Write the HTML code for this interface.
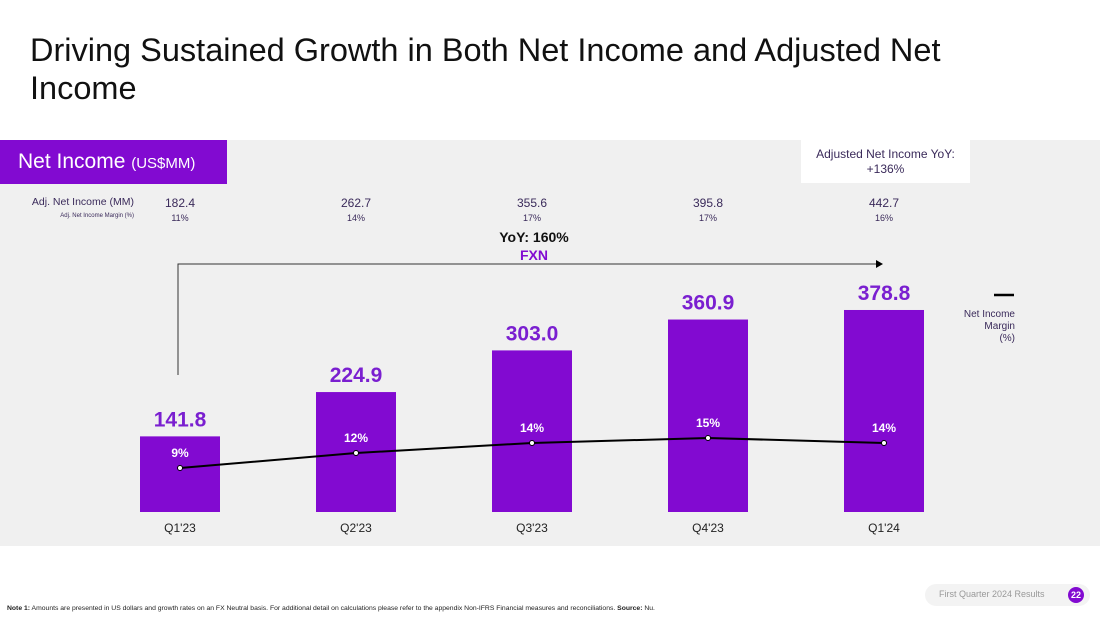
<!DOCTYPE html>
<html><head><meta charset="utf-8"><style>
body{margin:0;width:1100px;height:619px;background:#fff;font-family:"Liberation Sans",sans-serif;position:relative;overflow:hidden}
.a{position:absolute}
</style></head><body>
<div class="a" style="left:30px;top:31px;font-size:32.5px;line-height:38px;color:#111;width:960px">Driving Sustained Growth in Both Net Income and Adjusted Net Income</div>
<div class="a" style="left:0;top:140px;width:1100px;height:406px;background:#f0f0f0"></div>
<div class="a" style="left:0;top:140px;width:227px;height:44px;background:#820ad1;color:#fff;font-size:21px;line-height:44px;padding-left:18px;box-sizing:border-box">Net Income <span style="font-size:15px">(US$MM)</span></div>
<div class="a" style="left:801px;top:140px;width:169px;height:43px;background:#fff;color:#3a2a5a;font-size:12px;text-align:center;line-height:15px;padding-top:7px;box-sizing:border-box">Adjusted Net Income YoY:<br>+136%</div>
<div class="a" style="left:0;top:196px;width:134px;text-align:right;font-size:10.5px;color:#3a2a5a">Adj. Net Income (MM)</div>
<div class="a" style="left:0;top:213px;width:134px;text-align:right;font-size:6px;color:#3a2a5a">Adj. Net Income Margin (%)</div>
<svg class="a" style="left:0;top:0" width="1100" height="619" id="chart"></svg>
<div class="a" style="left:7px;top:605px;font-size:6.8px;color:#222;white-space:nowrap"><b>Note 1:</b> Amounts are presented in US dollars and growth rates on an FX Neutral basis. For additional detail on calculations please refer to the appendix Non-IFRS Financial measures and reconciliations. <b>Source:</b> Nu.</div>
<div class="a" style="left:925px;top:584px;width:165px;height:22px;border-radius:11px;background:#f3f3f3"></div>
<div class="a" style="left:939px;top:589px;font-size:9px;color:#999">First Quarter 2024 Results</div>
<div class="a" style="left:1068px;top:587px;width:16px;height:16px;border-radius:8px;background:#820ad1;color:#fff;font-size:9px;font-weight:bold;text-align:center;line-height:16px">22</div>
<script>
const categories=["Q1'23","Q2'23","Q3'23","Q4'23","Q1'24"];
const netIncome=[141.8,224.9,303.0,360.9,378.8];
const niMargin=[9,12,14,15,14];
const adjNetIncome=[182.4,262.7,355.6,395.8,442.7];
const adjMargin=[11,14,17,17,16];
const svg=document.getElementById('chart');const NS='http://www.w3.org/2000/svg';
const P='#820ad1';
function xC(i){return 180+i*176;}
function yB(v){return 512-v*0.5333;}
function yM(m){return 513-m*5;}
function el(t,a,txt){const e=document.createElementNS(NS,t);for(const k in a)e.setAttribute(k,a[k]);if(txt!=null)e.textContent=txt;svg.appendChild(e);return e;}
categories.forEach((c,i)=>{
 const b=el('rect',{x:xC(i)-40,y:yB(netIncome[i]),width:80,height:512-yB(netIncome[i]),fill:P});
 
 
 const v=el('text',{x:xC(i),y:yB(netIncome[i])-10,'text-anchor':'middle','font-size':21,'font-weight':'bold',fill:'#7a1fd0','font-family':'Liberation Sans'},netIncome[i].toFixed(1));
 
 
 const x=el('text',{x:xC(i),y:532,'text-anchor':'middle','font-size':12,fill:'#222','font-family':'Liberation Sans'},c);
 
 
 const a=el('text',{x:xC(i),y:207,'text-anchor':'middle','font-size':12,fill:'#3a2a5a','font-family':'Liberation Sans'},adjNetIncome[i].toFixed(1));
 
 
 const m=el('text',{x:xC(i),y:221,'text-anchor':'middle','font-size':9,fill:'#3a2a5a','font-family':'Liberation Sans'},adjMargin[i]+'%');
 
 
});
let d='';niMargin.forEach((m,i)=>{d+=(i?'L':'M')+xC(i)+' '+yM(m);});
const ln=el('path',{d:d,fill:'none',stroke:'#000','stroke-width':2});


niMargin.forEach((m,i)=>{
 const p=el('circle',{cx:xC(i),cy:yM(m),r:2.5,fill:'#fff',stroke:'#000','stroke-width':1});
 
 
 const t=el('text',{x:xC(i),y:yM(m)-11,'text-anchor':'middle','font-size':12,'font-weight':'bold',fill:'#fff','font-family':'Liberation Sans'},m+'%');
 
 
});
const ar=el('path',{d:'M178 375 L178 264 L876 264',fill:'none',stroke:'#333','stroke-width':1});


el('path',{d:'M876 260 L883 264 L876 268 Z',fill:'#000'});
const y1=el('text',{x:534,y:242,'text-anchor':'middle','font-size':14,'font-weight':'bold',fill:'#111','font-family':'Liberation Sans'},'YoY: 160%');


const y2=el('text',{x:534,y:260,'text-anchor':'middle','font-size':14,'font-weight':'bold',fill:P,'font-family':'Liberation Sans'},'FXN');


const lg=el('line',{x1:994,y1:295,x2:1014,y2:295,stroke:'#000','stroke-width':2.5});


['Net Income','Margin','(%)'].forEach((s,i)=>{
 const t=el('text',{x:1015,y:317+i*12,'text-anchor':'end','font-size':10,fill:'#3a2a5a','font-family':'Liberation Sans'},s);
 
 
});
</script>
</body></html>
